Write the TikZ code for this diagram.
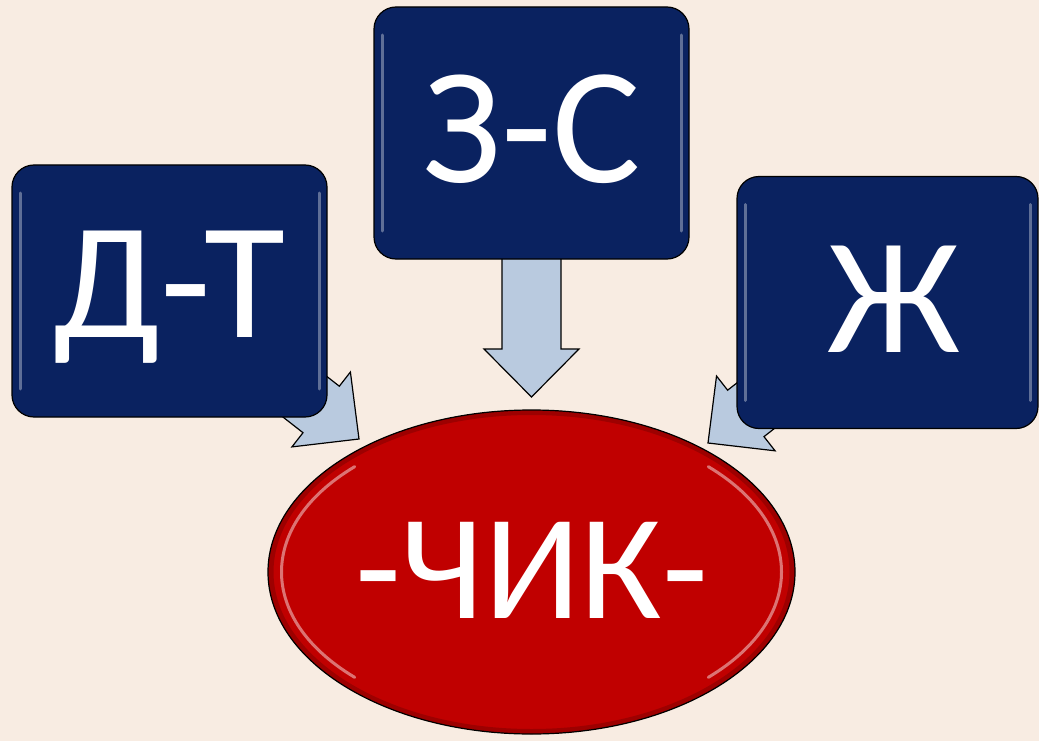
\documentclass[tikz,border=0pt]{standalone}
\usepackage{fontspec}
\setmainfont{Carlito}
\usetikzlibrary{calc,shapes.geometric}
\definecolor{bgc}{HTML}{F8ECE2}
\definecolor{navy}{HTML}{0A2260}
\definecolor{redc}{HTML}{C00000}
\definecolor{arrc}{HTML}{B9CADF}
\pgfdeclarelayer{bglayer}
\pgfdeclarelayer{arrlayer}
\pgfsetlayers{bglayer,arrlayer,main}
\tikzset{
  boxnode/.style={rectangle, rounded corners=22pt, fill=navy, draw=black,
    line width=1.2pt, minimum width=315pt, minimum height=252pt, text=white,
    font=\fontsize{166}{166}\selectfont, text height=106pt, inner sep=0pt,
    path picture={
      \draw[line width=3pt, draw=white, opacity=0.35, line cap=round]
        ([xshift=8pt,yshift=-28pt]path picture bounding box.north west) --
        ([xshift=8pt,yshift=28pt]path picture bounding box.south west);
      \draw[line width=3pt, draw=white, opacity=0.35, line cap=round]
        ([xshift=-8pt,yshift=-28pt]path picture bounding box.north east) --
        ([xshift=-8pt,yshift=28pt]path picture bounding box.south east);
    }},
  ovalnode/.style={ellipse, fill=redc, draw=black, line width=1.2pt,
    minimum width=527pt, minimum height=324pt, text=white,
    font=\fontsize{150}{150}\selectfont, text height=95pt, text depth=3pt,
    inner sep=0pt,
    path picture={
      \coordinate (pc) at (path picture bounding box.center);
      \draw[line width=10pt, draw=black, opacity=0.18] (pc) ellipse [x radius=263pt, y radius=162pt];
      \draw[line width=3pt, draw=white, opacity=0.45, line cap=round]
        ($(pc)+(135:250pt and 149pt)$) arc[start angle=135, end angle=225, x radius=250pt, y radius=149pt];
      \draw[line width=3pt, draw=white, opacity=0.45, line cap=round]
        ($(pc)+(-45:250pt and 149pt)$) arc[start angle=-45, end angle=45, x radius=250pt, y radius=149pt];
    }},
  blockarr/.style={fill=arrc, draw=black, line width=1.2pt, line join=miter},
}
\newcommand\blockarrow[2]{%
  \coordinate (hb) at ($(#2)!48pt!(#1)$);
  \draw[blockarr] ($(#1)!29.5pt!90:(#2)$) -- ($(hb)!29.5pt!90:(#2)$)
    -- ($(hb)!47.5pt!90:(#2)$) -- (#2) -- ($(hb)!47.5pt!-90:(#2)$)
    -- ($(hb)!29.5pt!-90:(#2)$) -- ($(#1)!29.5pt!-90:(#2)$) -- cycle;}
\begin{document}
\begin{tikzpicture}[x=1pt, y=-1pt]
  \useasboundingbox (0,0) rectangle (1039,741);
  \begin{pgfonlayer}{bglayer}
    \fill[bgc] (0,0) rectangle (1039,741);
  \end{pgfonlayer}
  \node[boxnode, text depth=13pt] (dt) at (169.5,291) {Д-Т};
  \node[boxnode, text depth=7pt] (zs) at (531.5,133) {З-С};
  \node[boxnode, text depth=7pt, minimum width=301pt] (zh) at (887.5,302.5) {\hspace*{13pt}Ж};
  \node[ovalnode] (chik) at (531.5,572) {-ЧИК-};
  \coordinate (tipL) at (359,439);
  \coordinate (tipM) at (531.5,397);
  \coordinate (tipR) at (708,443);
  \begin{pgfonlayer}{arrlayer}
    \blockarrow{dt.center}{tipL}
    \blockarrow{zs.center}{tipM}
    \blockarrow{zh.center}{tipR}
  \end{pgfonlayer}
\end{tikzpicture}
\end{document}
